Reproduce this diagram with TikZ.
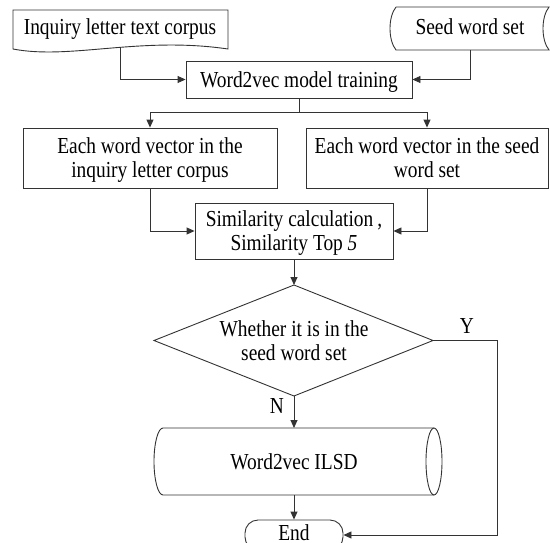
\documentclass[tikz,border=0pt]{standalone}
\usepackage{fontspec}
\usepackage{graphicx}
\setmainfont{Liberation Serif}
\usetikzlibrary{arrows.meta}
\newcommand\tx[1]{\raisebox{-3pt}[\height][\depth]{\scalebox{1}[1.18]{\begin{tabular}{@{}c@{}}#1\end{tabular}}}}
\begin{document}
\begin{tikzpicture}[x=1pt,y=-1pt,
  line width=0.9pt,
  every node/.style={font=\fontsize{19.4}{20.5}\selectfont, text=black},
  ln/.style={draw=black!80, line width=0.9pt},
  arr/.style={ln, -{Triangle[length=8pt,width=7pt]}},
  boxnode/.style={draw=black!80, line width=0.9pt, rectangle, inner sep=0pt, align=center},
  lbl/.style={inner sep=0pt}]
\useasboundingbox (0,0) rectangle (550,542);
\clip (0,0) rectangle (550,542);
% document shape
\draw[ln, fill=white] (13,10) -- (228,10) -- (228,49)
   .. controls (140,36) and (70,60) .. (13,49) -- cycle;
\node[lbl] (doc) at (120,27) {\tx{Inquiry letter text corpus}};
\coordinate (docb) at (120,47);
% stored data shape
\draw[ln] (396,7) -- (549,7) .. controls (541,17) and (541,40) .. (549,50)
   -- (396,50) .. controls (388,40) and (388,17) .. (396,7);
\node[lbl] (seed) at (470,27) {\tx{Seed word set}};
\coordinate (seedb) at (470,50);
% model training
\node[boxnode, minimum width=226pt, minimum height=37pt] (w2v) at (299,79.5) {\tx{Word2vec model training}};
% vectors
\node[boxnode, minimum width=254pt, minimum height=60pt] (left) at (150,158) {\tx{Each word vector in the\\inquiry letter corpus}};
\node[boxnode, minimum width=242pt, minimum height=60pt] (right) at (427,158) {\tx{Each word vector in the seed\\word set}};
% similarity
\node[boxnode, minimum width=198pt, minimum height=56pt] (sim) at (294,231) {\tx{Similarity calculation\hspace{4pt},\hspace{12pt}\\Similarity Top \textit{5}}};
% decision
\coordinate (dT) at (294,285);
\coordinate (dB) at (294,396);
\coordinate (dL) at (154,340.5);
\coordinate (dR) at (433,340.5);
\draw[ln] (dT) -- (dR) -- (dB) -- (dL) -- cycle;
\node[lbl] (dec) at (294,340.5) {\tx{Whether it is in the\\seed word set}};
% cylinder
\draw[ln] (434,428) -- (163,428) arc[start angle=90, end angle=270, x radius=9pt, y radius=33.5pt] -- (434,495);
\draw[ln] (434,461.5) ellipse [x radius=8pt, y radius=33.5pt];
\node[lbl] (ilsd) at (294,461.5) {\tx{Word2vec ILSD}};
\coordinate (cT) at (294,428);
\coordinate (cB) at (294,495);
% end
\node[boxnode, rounded corners=13pt, minimum width=98pt, minimum height=30pt] (end) at (294,535) {};
\node[lbl] (endt) at (294,533) {\tx{End}};
% labels
\node[lbl] (ylab) at (467,326) {\tx{Y}};
\node[lbl] (nlab) at (277,406) {\tx{N}};
% connectors
\draw[arr] (docb) |- (w2v.west);
\draw[arr] (seedb) |- (w2v.east);
\draw[arr] (w2v.south) -- ++(0,14) -| (left.north);
\draw[arr] (w2v.south) -- ++(0,14) -| (right.north);
\draw[arr] (left.south) |- (sim.west);
\draw[arr] (right.south) |- (sim.east);
\draw[arr] (sim.south) -- (dT);
\draw[arr] (dB) -- (cT);
\draw[arr] (cB) -- (end.north);
\draw[arr] (dR) -- (497,340.5) |- (end.east);
\end{tikzpicture}
\end{document}
